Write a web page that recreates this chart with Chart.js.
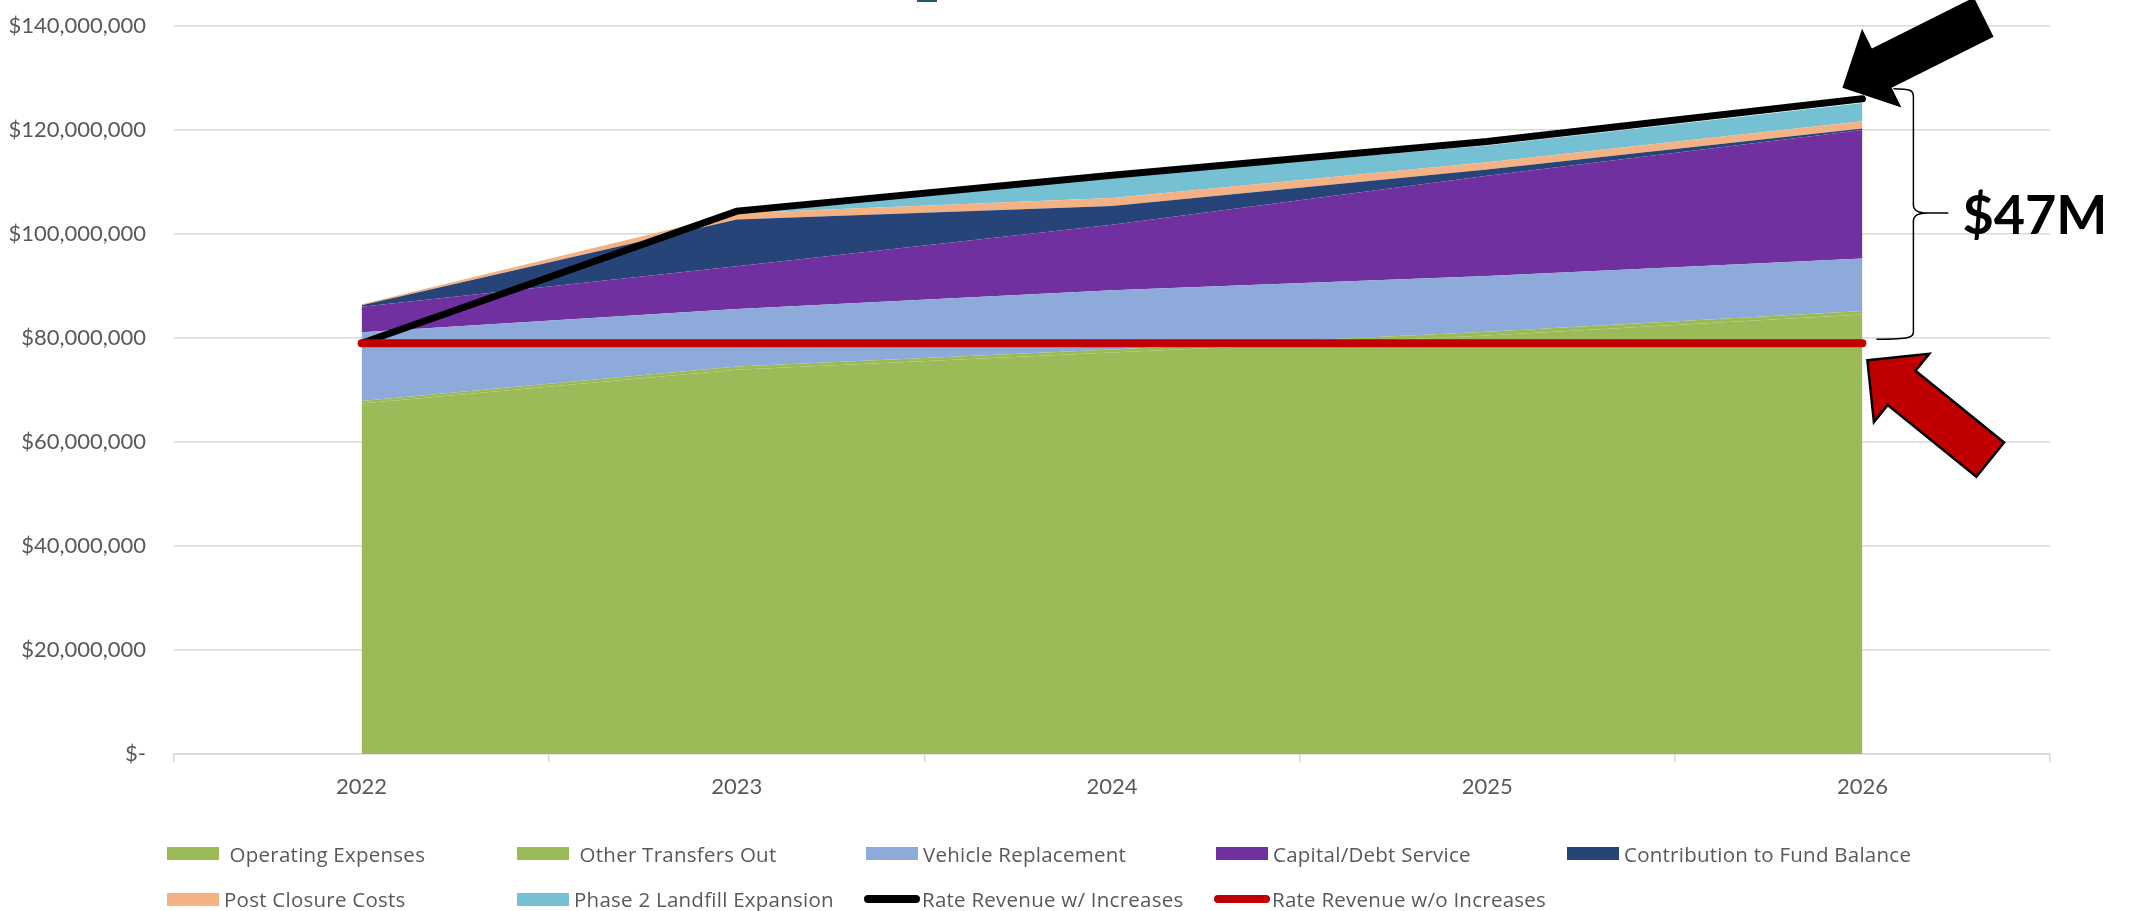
<!DOCTYPE html>
<html><head><meta charset="utf-8">
<script src="https://cdn.jsdelivr.net/npm/chart.js@4/dist/chart.umd.min.js"></script>
<style>
html,body{margin:0;padding:0;background:#fff;}
#wrap{position:relative;width:2136px;height:911px;overflow:hidden;background:#fff;}
#c{position:absolute;left:0;top:0;}
#legend{position:absolute;left:0;top:0;width:2136px;height:911px;pointer-events:none;font-family:"Open Sans",Lato,sans-serif;font-size:20.5px;letter-spacing:0.25px;color:#595959;}
.li{position:absolute;display:flex;align-items:center;white-space:pre;height:30px;}
.sw{display:inline-block;margin-right:5px;}
</style></head><body>
<div id="wrap"><canvas id="c" width="2136" height="911"></canvas><div id="legend"></div></div>
<script>
// ---- data ----
const years = ['2022', '2023', '2024', '2025', '2026'];
const operatingExpenses      = [67400000, 73900000, 77200000, 80500000, 84500000];
const otherTransfersOut      = [500000, 600000, 600000, 700000, 700000];
const vehicleReplacement     = [13200000, 11100000, 11400000, 10700000, 10100000];
const capitalDebtService     = [4900000, 8200000, 12600000, 19300000, 24700000];
const contributionToFund     = [300000, 9000000, 3600000, 1200000, 300000];
const postClosureCosts       = [200000, 1200000, 1500000, 1400000, 1400000];
const phase2Expansion        = [0, 0, 4000000, 3200000, 3500000];
const revenueWithIncreases   = [79000000, 104400000, 111300000, 117800000, 126000000];
const revenueWithoutIncreases= [79000000, 79000000, 79000000, 79000000, 79000000];
const yMin = 0, yMax = 140000000, yStep = 20000000;
const gapLabel = '$47M';

const areaSeries = [
  {label: ' Operating Expenses', data: operatingExpenses, color: '#9BBB59'},
  {label: ' Other Transfers Out', data: otherTransfersOut, color: '#9BBB59'},
  {label: 'Vehicle Replacement', data: vehicleReplacement, color: '#8EAADB'},
  {label: 'Capital/Debt Service', data: capitalDebtService, color: '#7030A0'},
  {label: 'Contribution to Fund Balance', data: contributionToFund, color: '#264478'},
  {label: 'Post Closure Costs', data: postClosureCosts, color: '#F4B183'},
  {label: 'Phase 2 Landfill Expansion', data: phase2Expansion, color: '#76C0D4'}
];
const lineSeries = [
  {label: 'Rate Revenue w/ Increases', data: revenueWithIncreases, color: '#000000', order: 1, width: 7},
  {label: 'Rate Revenue w/o Increases', data: revenueWithoutIncreases, color: '#C00000', order: 0, width: 8}
];

const datasets = [];
areaSeries.forEach((s, i) => datasets.push({
  type: 'line', label: s.label, data: s.data,
  backgroundColor: s.color, borderColor: 'rgba(0,0,0,0)', borderWidth: 1,
  pointRadius: 0, pointHoverRadius: 0, tension: 0,
  fill: i === 0 ? 'origin' : '-1', stack: 'costs', order: 2
}));
lineSeries.forEach((s, i) => datasets.push({
  type: 'line', label: s.label, data: s.data,
  borderColor: s.color, backgroundColor: s.color, borderWidth: s.width,
  borderCapStyle: 'round', borderJoinStyle: 'miter',
  pointRadius: 0, pointHoverRadius: 0, tension: 0, fill: false,
  stack: 'line' + i, order: s.order
}));

function arrow(ctx, tx, ty, ux, uy, fill, stroke) {
  const nx = -uy, ny = ux;
  const hl = 44, hw = 44, sw = 22, len = 158;
  const p = (a, b) => [tx + a * ux + b * nx, ty + a * uy + b * ny];
  const pts = [p(0, 0), p(hl, -hw), p(hl, -sw), p(len, -sw), p(len, sw), p(hl, sw), p(hl, hw)];
  ctx.beginPath();
  pts.forEach((q, i) => i ? ctx.lineTo(q[0], q[1]) : ctx.moveTo(q[0], q[1]));
  ctx.closePath();
  ctx.fillStyle = fill; ctx.fill();
  if (stroke) { ctx.lineWidth = 2.5; ctx.strokeStyle = stroke; ctx.lineJoin = 'miter'; ctx.stroke(); }
}

const annotations = {
  id: 'annotations',
  afterDraw(chart) {
    const {ctx, scales: {x, y}} = chart;
    const last = years.length - 1;
    const xi = x.getPixelForValue(last);
    const yW = y.getPixelForValue(revenueWithIncreases[last]);
    const yWo = y.getPixelForValue(revenueWithoutIncreases[last]);
    ctx.save();
    // clipped title fragment at the very top
    ctx.fillStyle = '#215968';
    ctx.fillRect(917, 0, 20, 2);
    // black arrow
    const s5 = Math.sqrt(5);
    arrow(ctx, xi - 20, yW - 11, 2 / s5, -1 / s5, '#000000', null);
    // red arrow
    const rl = Math.hypot(122.3, 99);
    arrow(ctx, xi + 5, yWo + 17, 122.3 / rl, 99 / rl, '#C00000', '#000000');
    // brace
    const bx = xi + 51, top = yW - 10, bot = yWo - 4, mid = (top + bot) / 2 - 1;
    ctx.beginPath();
    ctx.moveTo(xi + 31, top);
    ctx.bezierCurveTo(bx - 2, top, bx, top + 2, bx, top + 8);
    ctx.lineTo(bx, mid - 8);
    ctx.bezierCurveTo(bx, mid - 3, bx + 4, mid, bx + 14, mid);
    ctx.lineTo(xi + 86, mid);
    ctx.moveTo(bx + 14, mid);
    ctx.bezierCurveTo(bx + 4, mid, bx, mid + 3, bx, mid + 8);
    ctx.lineTo(bx, bot - 8);
    ctx.bezierCurveTo(bx, bot - 2, bx - 2, bot, xi + 14, bot);
    ctx.lineWidth = 1.5; ctx.strokeStyle = '#000'; ctx.stroke();
    // label
    ctx.fillStyle = '#000';
    ctx.font = 'bold 54px Lato, "Open Sans", sans-serif';
    ctx.textAlign = 'left'; ctx.textBaseline = 'alphabetic';
    ctx.fillText(gapLabel, xi + 100, mid + 21);
    ctx.restore();
  }
};

const chart = new Chart(document.getElementById('c'), {
  type: 'line',
  data: {labels: years, datasets},
  options: {
    responsive: false, animation: false, devicePixelRatio: 1,
    layout: {padding: {left: 0, top: 26, right: 86, bottom: 107}},
    plugins: {legend: {display: false}, tooltip: {enabled: false}, title: {display: false}},
    scales: {
      x: {
        type: 'category', offset: true,
        grid: {offset: true, drawOnChartArea: false, drawTicks: true, tickLength: 8, color: '#d9d9d9', lineWidth: 1.5},
        border: {display: true, color: '#d9d9d9', width: 1.5},
        ticks: {color: '#595959', font: {family: 'Lato', size: 22}, padding: 12, maxRotation: 0},
        afterFit: s => { s.height = 50; }
      },
      y: {
        stacked: true, min: yMin, max: yMax,
        grid: {color: '#d9d9d9', lineWidth: 1.5, drawTicks: true, tickLength: 28, tickColor: 'rgba(0,0,0,0)'},
        border: {display: false},
        ticks: {stepSize: yStep, color: '#595959', font: {family: 'Lato', size: 22}, padding: 0,
          callback: v => v === 0 ? '$-' : '$' + Number(v).toLocaleString('en-US')},
        afterFit: s => { s.width = 174; }
      }
    }
  },
  plugins: [annotations]
});

// ---- legend (grid like the reference) ----
const legend = document.getElementById('legend');
const colX = [167, 517, 866, 1216, 1567];
const rowY = [853.5, 899];
const items = areaSeries.map(s => ({label: s.label, color: s.color, kind: 'box'}))
  .concat(lineSeries.map(s => ({label: s.label, color: s.color, kind: 'line'})));
items.forEach((it, i) => {
  const r = Math.floor(i / 5), c = i % 5;
  const d = document.createElement('div');
  d.className = 'li';
  d.style.left = (it.kind === 'line' ? colX[c] - 2 : colX[c]) + 'px';
  d.style.top = (rowY[r] - 15) + 'px';
  const sw = document.createElement('span');
  sw.className = 'sw';
  if (it.kind === 'box') {
    sw.style.width = '52px'; sw.style.height = '13px'; sw.style.background = it.color;
  } else {
    sw.style.width = '56px'; sw.style.height = '8px'; sw.style.background = it.color; sw.style.borderRadius = '4px';
    sw.style.marginRight = '2px';
  }
  d.appendChild(sw);
  const t = document.createElement('span');
  t.textContent = it.label;
  d.appendChild(t);
  legend.appendChild(d);
});
</script>
</body></html>
